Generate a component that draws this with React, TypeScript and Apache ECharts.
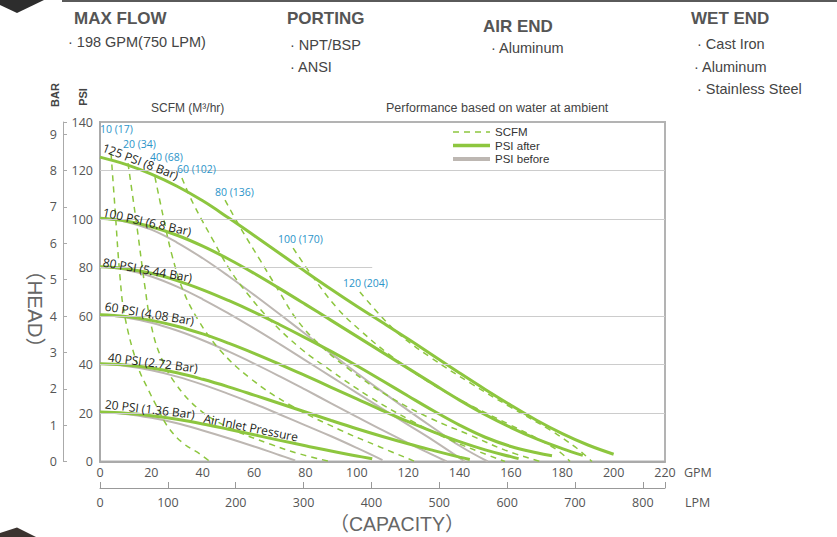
import { useEffect, useRef } from "react";
import * as echarts from "echarts";

// ---------- axes ----------
const GPM_MAX = 220;
const GPM_STEP = 20;
const PSI_MAX = 140;
const PSI_STEP = 20;
const PSI_PER_BAR = 15;
const LPM_PER_GPM = 3.785;
const LPM_STEP = 100;
const GRID_LEVELS = [20, 40, 60, 100, 120];
const PARTIAL_GRID = { level: 80, toGpm: 106 };

// ---------- PSI after (green solid) : [GPM, PSI] ----------
const AFTER_125 = [[0,125.5],[10,122.5],[20,118.5],[30,113.5],[40,107.5],[50,100.5],[60,93.2],[70,85.8],[80,78.3],[90,71],[100,64],[110,57.3],[120,50.5],[130,43.5],[140,36.5],[150,29.7],[160,23.2],[170,17],[180,11.5],[190,6.8],[200,3]];
const AFTER_100 = [[0,100.3],[10,99.2],[20,96.8],[30,93.3],[40,88.8],[50,83.5],[60,77.6],[70,71.3],[80,64.8],[90,58.2],[100,51.6],[110,45],[120,38.4],[130,31.8],[140,25.3],[150,19.3],[160,14],[170,9.3],[180,5.3],[188,2.5]];
const AFTER_80 = [[0,80.3],[10,79.5],[20,77.6],[30,74.6],[40,70.8],[50,66.4],[60,61.6],[70,56.4],[80,51],[90,45.4],[100,39.5],[110,33.3],[120,27],[130,20.8],[140,15],[150,10],[160,6.2],[170,3.6],[176,2.4]];
const AFTER_60 = [[0,60.5],[10,59.8],[20,58.2],[30,55.8],[40,52.6],[50,48.8],[60,44.6],[70,40.1],[80,35.4],[90,30.6],[100,25.8],[110,21],[120,16.4],[130,12.1],[140,8.2],[150,4.8],[160,2],[163,1.2]];
const AFTER_40 = [[0,40.3],[10,39.8],[20,38.6],[30,36.6],[40,33.9],[50,30.8],[60,27.4],[70,23.9],[80,20.4],[90,16.9],[100,13.5],[110,10.3],[120,7.3],[130,4.5],[140,1.8],[144,0.8]];
const AFTER_20 = [[0,20.4],[10,19.9],[20,18.9],[30,17.4],[40,15.5],[50,13.3],[60,11],[70,8.7],[80,6.5],[90,4.3],[100,2.3],[106,1.1]];

// ---------- PSI before (grey) ----------
const BEFORE_100 = [[0,100.3],[10,98.9],[20,95.6],[30,90.3],[40,83.8],[50,76.5],[60,68.7],[70,60.7],[80,52.6],[90,44.5],[100,36.5],[110,28.7],[120,21.1],[130,13.7],[140,6.5],[151,0]];
const BEFORE_80 = [[0,80.3],[10,79.1],[20,76.3],[30,72.1],[40,66.9],[50,61.1],[60,54.9],[70,48.4],[80,41.7],[90,35],[100,28.3],[110,21.7],[120,15.1],[130,8.5],[142,0]];
const BEFORE_60 = [[0,60.5],[10,59.4],[20,57.2],[30,54],[40,50],[50,45.4],[60,40.4],[70,35.1],[80,29.6],[90,24],[100,18.4],[110,12.9],[120,7.6],[130,2.5],[135,0]];
const BEFORE_40 = [[0,40.3],[10,39.4],[20,37.6],[30,35],[40,31.7],[50,27.9],[60,23.8],[70,19.4],[80,14.9],[90,10.4],[100,5.6],[110,0.6]];
const BEFORE_20 = [[0,20.4],[10,19.6],[20,18],[30,15.8],[40,12.8],[50,9.6],[60,6.2],[70,2.6],[76,0.4]];

// ---------- SCFM (green dashed) ----------
const SCFM_10 = [[4.3,127],[5.8,105],[7.8,76],[9.7,59.6],[14.8,39],[18.3,30.7],[22.2,22.5],[26.5,14.2],[32.3,7.6],[38.9,3.1],[42.8,0]];
const SCFM_20 = [[10.9,123],[14.4,96.7],[17.5,72],[19.9,56.3],[23.4,43.9],[29.2,32.4],[38.9,21.2],[50.6,13.8],[66.2,7.2],[77.9,3.1],[89.6,0]];
const SCFM_40 = [[21.4,117.3],[24.5,101.6],[28,85.2],[32.3,70.7],[38.2,58.4],[46.7,46],[58.4,34.4],[74,23.3],[93.5,13],[109,6],[122.7,0]];
const SCFM_60 = [[31.9,116.9],[36.2,106.6],[44,91.3],[50.6,79],[57.2,69.5],[66.2,58.4],[77.9,46.8],[89.6,37.7],[105.1,26.6],[120.7,17.1],[136.3,8.9],[148,3.9],[157.7,0]];
const SCFM_80 = [[48.7,107.8],[54.5,96.7],[62.3,83.1],[70.1,69.5],[76.7,58.4],[85.7,48],[97.4,37.7],[112.9,26.6],[128.5,17.9],[144.1,10.9],[157.7,4.7],[171.3,0]];
const SCFM_100 = [[75.2,88],[82.9,76.1],[92.3,63.3],[101.2,54.2],[112.9,43.9],[128.5,32.4],[144.1,23.3],[159.7,15.1],[171.3,8.9],[179.1,3.9],[183,0]];
const SCFM_120 = [[101.2,69.9],[109,60.4],[116.8,52.2],[128.5,43.1],[144.1,32.4],[159.7,22.5],[175.2,13],[185,6],[191.6,0]];

const PSI_AFTER = [AFTER_125, AFTER_100, AFTER_80, AFTER_60, AFTER_40, AFTER_20];
const PSI_BEFORE = [BEFORE_100, BEFORE_80, BEFORE_60, BEFORE_40, BEFORE_20];
const SCFM_LINES = [SCFM_10, SCFM_20, SCFM_40, SCFM_60, SCFM_80, SCFM_100, SCFM_120];

// ---------- texts ----------
const PRESSURE_LABELS = ["125 PSI (8 Bar)", "100 PSI (6.8 Bar)", "80 PSI (5.44 Bar)", "60 PSI (4.08 Bar)", "40 PSI (2.72 Bar)", "20 PSI (1.36 Bar)", "Air Inlet Pressure"];
const SCFM_LABELS = ["10 (17)", "20 (34)", "40 (68)", "60 (102)", "80 (136)", "100 (170)", "120 (204)"];
const LEGEND_NAMES = ["SCFM", "PSI after", "PSI before"];

// layout (pixels / degrees) for the annotation texts
const PRESSURE_LABEL_POS = [[103,147,21],[103,212,12.5],[103,262,10],[105,306,9.5],[108,357,7],[105,404,6.5],[204,418,11.5]];
const SCFM_LABEL_POS = [[100,129],[123,144],[150,157],[177,169],[215,192],[278,239],[343,283]];

const GREEN = "#8dc63f";
const GREY = "#bdb7b2";
const BLUE = "#2b94c9";
const AXIS_FONT = "'Open Sans', 'Noto Sans', sans-serif";
const HEAD_FONT = "'Liberation Sans', Arial, sans-serif";
const CJK_FONT = "'Liberation Sans', 'Noto Sans CJK SC', sans-serif";

function text(t: string, x: number, y: number, o: any = {}) {
  const align = o.align || "left";
  const valign = o.valign || "middle";
  return {
    type: "text",
    x,
    y,
    rotation: o.rotation || 0,
    z: 100,
    silent: true,
    style: {
      text: t,
      fill: o.fill || "#4d4d4d",
      fontSize: o.size || 12,
      fontWeight: o.weight || "normal",
      fontFamily: o.family || HEAD_FONT,
      align,
      textAlign: align,
      verticalAlign: valign,
      textVerticalAlign: valign,
    },
  };
}

function buildOption() {
  const lineSeries = (name: string, data: number[][], color: string, lineStyle: any, z: number) => ({
    type: "line",
    name,
    data,
    xAxisIndex: 0,
    yAxisIndex: 0,
    symbol: "none",
    showSymbol: false,
    smooth: 0.4,
    silent: true,
    z,
    color,
    itemStyle: { color },
    lineStyle: { color, ...lineStyle },
  });

  const series: any[] = [];
  series.push({
    type: "line",
    name: "grid",
    data: [],
    silent: true,
    z: 1,
    markLine: {
      silent: true,
      symbol: "none",
      label: { show: false },
      lineStyle: { color: "#cccccc", width: 1, type: "solid" },
      data: [
        ...GRID_LEVELS.map((v) => ({ yAxis: v })),
        [{ coord: [0, PARTIAL_GRID.level] }, { coord: [PARTIAL_GRID.toGpm, PARTIAL_GRID.level] }],
      ],
    },
  });
  PSI_BEFORE.forEach((d) => series.push(lineSeries("PSI before", d, GREY, { width: 2 }, 2)));
  SCFM_LINES.forEach((d) => series.push(lineSeries("SCFM", d, GREEN, { width: 1.5, type: [6, 5] }, 3)));
  PSI_AFTER.forEach((d) => series.push(lineSeries("PSI after", d, GREEN, { width: 3 }, 4)));

  const graphic: any[] = [
    { type: "rect", shape: { x: 62, y: 0, width: 775, height: 2 }, style: { fill: "#5a5a5a" }, silent: true },
    { type: "polygon", shape: { points: [[0, 0], [44, 0], [17, 13], [0, 5]] }, style: { fill: "#2d2d2d" }, silent: true },
    { type: "polygon", shape: { points: [[0, 537], [0, 533], [17, 527.5], [36, 537]] }, style: { fill: "#3b3430" }, silent: true },
    text("MAX FLOW", 74, 18, { size: 17, weight: "bold", fill: "#555" }),
    text("· 198 GPM(750 LPM)", 68, 42, { size: 14.5, fill: "#444" }),
    text("PORTING", 287, 18, { size: 17, weight: "bold", fill: "#555" }),
    text("· NPT/BSP", 290, 45, { size: 14.5, fill: "#444" }),
    text("· ANSI", 290, 67, { size: 14.5, fill: "#444" }),
    text("AIR END", 483, 26, { size: 17, weight: "bold", fill: "#555" }),
    text("· Aluminum", 491, 48, { size: 14.5, fill: "#444" }),
    text("WET END", 691, 18, { size: 17, weight: "bold", fill: "#555" }),
    text("· Cast Iron", 697, 44, { size: 14.5, fill: "#444" }),
    text("· Aluminum", 694, 67, { size: 14.5, fill: "#444" }),
    text("· Stainless Steel", 697, 89, { size: 14.5, fill: "#444" }),
    text("BAR", 55, 95, { size: 11, weight: "bold", fill: "#444", align: "center", rotation: Math.PI / 2 }),
    text("PSI", 83, 97, { size: 11, weight: "bold", fill: "#444", align: "center", rotation: Math.PI / 2 }),
    text("SCFM (M³/hr)", 151, 108, { size: 12, fill: "#444" }),
    text("Performance based on water at ambient", 386, 108, { size: 12.5, fill: "#444" }),
    text("（HEAD）", 35, 309, { size: 20.5, fill: "#666", align: "center", rotation: -Math.PI / 2, family: CJK_FONT }),
    text("（CAPACITY）", 397, 524, { size: 19.5, fill: "#666", align: "center", family: CJK_FONT }),
    text("GPM", 684, 472, { size: 12.5, fill: "#555", family: AXIS_FONT }),
    text("LPM", 685, 502, { size: 12.5, fill: "#555", family: AXIS_FONT }),
  ];
  PRESSURE_LABELS.forEach((t, i) => {
    const [x, y, deg] = PRESSURE_LABEL_POS[i];
    graphic.push(text(t, x, y, { size: 12, fill: "#231f20", family: AXIS_FONT, rotation: (-deg * Math.PI) / 180 }));
  });
  SCFM_LABELS.forEach((t, i) => {
    const [x, y] = SCFM_LABEL_POS[i];
    graphic.push(text(t, x, y, { size: 10.5, fill: BLUE, family: AXIS_FONT }));
  });

  const axisLabel = { color: "#555", fontSize: 12.5, fontFamily: AXIS_FONT };

  return {
    animation: false,
    backgroundColor: "#ffffff",
    grid: { left: 100, top: 122, right: 172, bottom: 75.5, show: true, borderColor: "#b3b3b3", borderWidth: 2, backgroundColor: "transparent" },
    legend: {
      data: [
        { name: LEGEND_NAMES[0], lineStyle: { width: 1.5 } },
        { name: LEGEND_NAMES[1], lineStyle: { width: 3.5 } },
        { name: LEGEND_NAMES[2], lineStyle: { width: 4 } },
      ],
      orient: "vertical",
      left: 446,
      top: 121,
      itemWidth: 37,
      itemHeight: 12,
      itemGap: 1.5,
      selectedMode: false,
      itemStyle: { opacity: 0 },
      textStyle: { color: "#333", fontSize: 11.5, fontFamily: HEAD_FONT, lineHeight: 12 },
    },
    xAxis: [
      {
        type: "value",
        min: 0,
        max: GPM_MAX,
        interval: GPM_STEP,
        axisLine: { show: true, onZero: false, lineStyle: { color: "#aaa", width: 2 } },
        axisTick: { show: false },
        splitLine: { show: false },
        axisLabel: { ...axisLabel, margin: 4 },
      },
      {
        type: "value",
        position: "bottom",
        offset: 26.5,
        min: 0,
        max: GPM_MAX * LPM_PER_GPM,
        interval: LPM_STEP,
        axisLine: { show: true, onZero: false, lineStyle: { color: "#999", width: 1 } },
        axisTick: { show: true, inside: true, length: 6, lineStyle: { color: "#999" } },
        splitLine: { show: false },
        axisLabel: { ...axisLabel, margin: 8, formatter: (v: number) => (v % LPM_STEP === 0 ? String(v) : "") },
      },
    ],
    yAxis: [
      {
        type: "value",
        min: 0,
        max: PSI_MAX,
        interval: PSI_STEP,
        axisLine: { show: true, onZero: false, lineStyle: { color: "#aaa", width: 2 } },
        axisTick: { show: false },
        splitLine: { show: false },
        axisLabel: { ...axisLabel, margin: 7 },
      },
      {
        type: "value",
        position: "left",
        offset: 37,
        min: 0,
        max: PSI_MAX / PSI_PER_BAR,
        interval: 1,
        axisLine: { show: true, onZero: false, lineStyle: { color: "#aaa", width: 1 } },
        axisTick: { show: true, inside: true, length: 4, lineStyle: { color: "#aaa" } },
        splitLine: { show: false },
        axisLabel: { ...axisLabel, margin: 6, formatter: (v: number) => (Number.isInteger(v) ? String(v) : "") },
      },
    ],
    series,
    graphic,
  };
}

export default function App() {
  const ref = useRef<HTMLDivElement>(null);
  useEffect(() => {
    const chart = echarts.init(ref.current!, undefined, { renderer: "svg" });
    chart.setOption(buildOption() as any);
    return () => chart.dispose();
  }, []);
  return (
    <div
      ref={ref}
      style={{ position: "fixed", left: 0, top: 0, width: 837, height: 537, background: "#fff" }}
    />
  );
}
